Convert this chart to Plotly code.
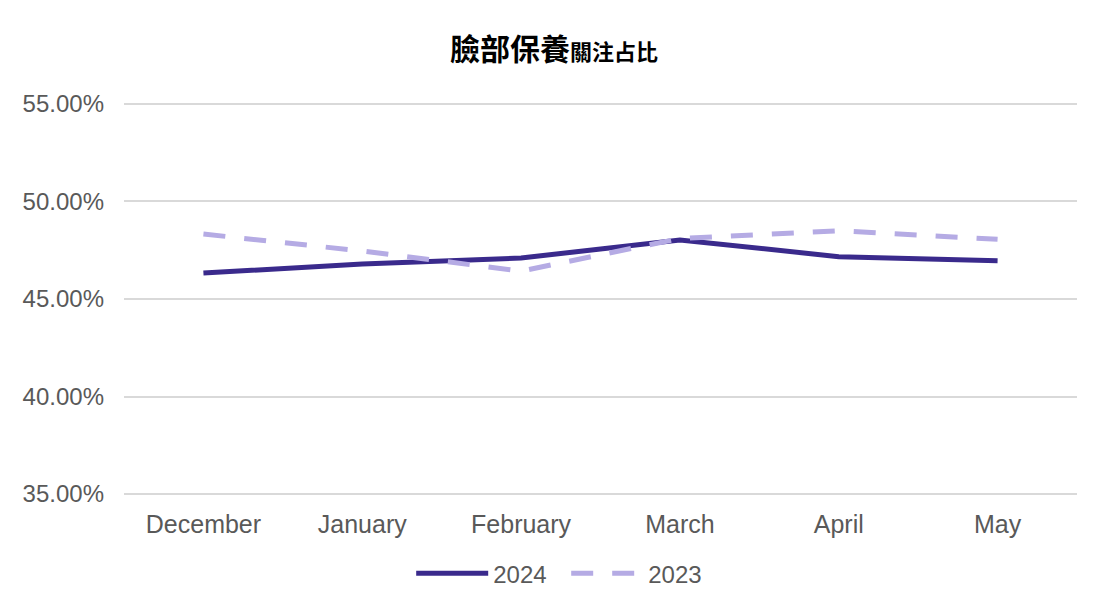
import plotly.graph_objects as go

months = ["December", "January", "February", "March", "April", "May"]
y2024 = [0.4633, 0.4680, 0.4710, 0.4803, 0.4717, 0.4696]
y2023 = [0.4833, 0.4746, 0.4643, 0.4810, 0.4850, 0.4806]
y_ticks = [0.35, 0.40, 0.45, 0.50, 0.55]

fig = go.Figure()
fig.add_trace(go.Scatter(x=months, y=y2024, mode="lines", name="2024",
                         line=dict(color="#3A2A8C", width=5)))
fig.add_trace(go.Scatter(x=months, y=y2023, mode="lines", name="2023",
                         line=dict(color="#B5ABE4", width=5, dash="22px,19px")))

fig.update_layout(
    width=1108, height=613,
    paper_bgcolor="white", plot_bgcolor="white",
    margin=dict(l=124, r=31, t=102, b=117, autoexpand=False),
    title=dict(
        text="<b>臉部保養</b><span style='font-size:22px'><b>關注占比</b></span>",
        x=0.5, xanchor="center", y=0.92, yanchor="middle",
        font=dict(family="Noto Sans CJK TC", size=30, color="#000000"),
    ),
    font=dict(family="Liberation Sans, Arial", color="#595959"),
    xaxis=dict(range=[-0.5, 5.5], showgrid=False, showline=False, zeroline=False,
               tickfont=dict(size=25, color="#595959"), ticks="", ticklabelstandoff=11),
    yaxis=dict(range=[0.349, 0.551], tickvals=y_ticks, tickformat=".2%",
               showgrid=True, gridcolor="#D9D9D9", gridwidth=1.5,
               zeroline=False, showline=False,
               tickfont=dict(size=24, color="#595959"), ticklabelstandoff=19),
    legend=dict(orientation="h", x=0.464, xanchor="center", y=-0.197, yanchor="middle",
                font=dict(size=24, color="#595959"), itemwidth=72,
                entrywidth=68, entrywidthmode="pixels"),
    showlegend=True,
)

fig.write_html("out.html", post_script="document.body.style.margin='0';",
               config={"displayModeBar": False})
